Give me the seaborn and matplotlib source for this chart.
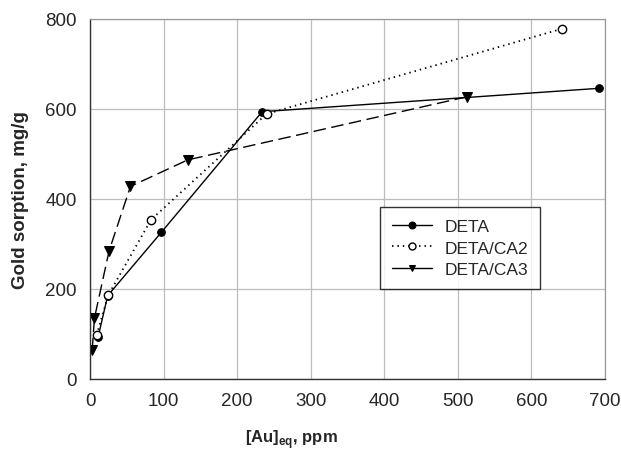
import matplotlib
matplotlib.use("Agg")
import matplotlib.pyplot as plt
import seaborn as sns
import pandas as pd

deta_x = [11, 24, 97, 234, 692]
deta_y = [93, 185, 326, 594, 646]
ca2_x = [9, 25, 83, 240, 641]
ca2_y = [98, 187, 354, 589, 778]
ca3_x = [3, 6, 26, 55, 133, 512]
ca3_y = [64, 135, 285, 428, 487, 627]
labels = ["DETA", "DETA/CA2", "DETA/CA3"]
xticks = [0, 100, 200, 300, 400, 500, 600, 700]
yticks = [0, 200, 400, 600, 800]

sns.set_theme(style="white")
plt.rcParams['font.family'] = ['Liberation Sans', 'DejaVu Sans']
plt.rcParams['mathtext.fontset'] = 'custom'
plt.rcParams['mathtext.rm'] = 'Liberation Sans:bold'
plt.rcParams['mathtext.bf'] = 'Liberation Sans:bold'

fig = plt.figure(figsize=(6.21, 4.56), dpi=100)
ax = fig.add_axes([90/621, 76/456, 515/621, 360/456])

sns.lineplot(x=deta_x, y=deta_y, ax=ax, color="black", lw=1.0, marker="o",
             markersize=5.5, markerfacecolor="black", markeredgecolor="black",
             label=labels[0], sort=False)
sns.lineplot(x=ca2_x, y=ca2_y, ax=ax, color="black", lw=1.3, marker="o",
             markersize=6, markerfacecolor="white", markeredgecolor="black",
             markeredgewidth=1.0, dashes=False, linestyle=(0, (0.8, 2.2)),
             label=labels[1], sort=False)
sns.lineplot(x=ca3_x, y=ca3_y, ax=ax, color="black", lw=1.0, marker="v",
             markersize=6.5, markerfacecolor="black", markeredgecolor="black",
             linestyle=(0, (9, 4)), label=labels[2], sort=False)

ax.set_xlim(0, 700)
ax.set_ylim(0, 800)
ax.set_xticks(xticks)
ax.set_yticks(yticks)
ax.grid(True, color="#bdbdbd", lw=0.9)
ax.set_axisbelow(True)
for s in ["top", "right"]:
    ax.spines[s].set_color("#9a9a9a")
    ax.spines[s].set_linewidth(0.9)
for s in ["left", "bottom"]:
    ax.spines[s].set_color("#333333")
    ax.spines[s].set_linewidth(1.0)
ax.tick_params(axis="both", which="major", direction="inout", length=7,
               width=1.0, color="#333333", labelsize=13.5, pad=6)

ax.set_xlabel(r"[Au]$_{\mathrm{eq}}$, ppm", fontsize=12, fontweight="bold")
ax.xaxis.set_label_coords(0.392, -0.135)
ax.set_ylabel("Gold sorption, mg/g", fontsize=13.5, fontweight="bold", labelpad=12)

leg = ax.legend(loc="upper left", bbox_to_anchor=(290/515, (380-208)/360),
                frameon=True, fancybox=False, edgecolor="black", fontsize=12.5,
                handlelength=2.3, borderpad=0.7, labelspacing=0.35,
                handletextpad=0.7, borderaxespad=0)
leg.get_frame().set_linewidth(1.0)
handles = leg.legend_handles
for h in handles:
    h.set_markersize(5)
handles[2].set_linestyle("-")

fig.savefig("out.png", dpi=100)
